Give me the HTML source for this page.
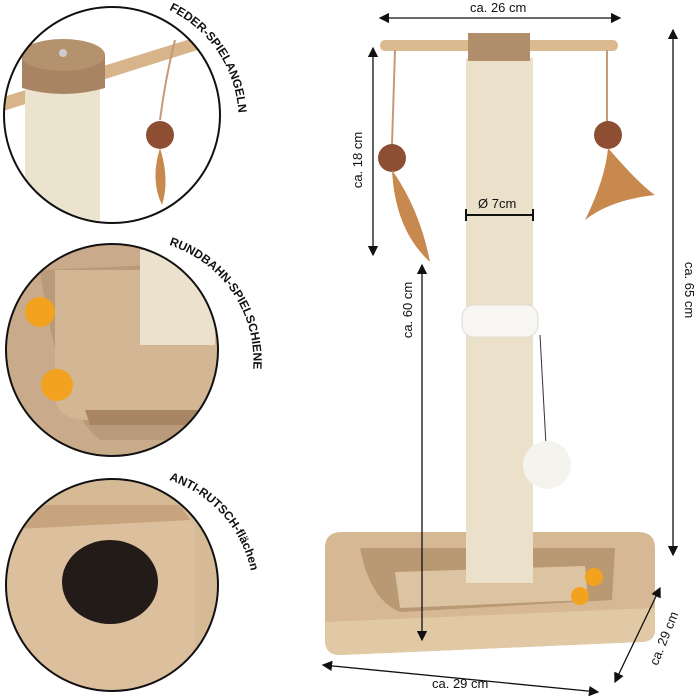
<!DOCTYPE html>
<html><head><style>body{margin:0;background:#fff}svg{display:block}</style></head><body>
<svg width="700" height="700" viewBox="0 0 700 700" xmlns="http://www.w3.org/2000/svg" font-family="Liberation Sans, sans-serif">
<defs>
<clipPath id="c1"><circle cx="112" cy="115" r="108"/></clipPath>
<clipPath id="c2"><circle cx="112" cy="350" r="106"/></clipPath>
<clipPath id="c3"><circle cx="112" cy="585" r="106"/></clipPath>
<path id="a1" d="M169 10 A122 122 0 0 1 232 160"/>
<path id="a2" d="M169 245 A122 122 0 0 1 220 445"/>
<path id="a3" d="M169 480 A122 122 0 0 1 220 680"/>
<marker id="ar" markerWidth="8" markerHeight="8" refX="7" refY="4" orient="auto-start-reverse"><path d="M0 0L8 4L0 8z" fill="#111"/></marker>
</defs>
<g clip-path="url(#c1)">
<rect x="0" y="0" width="230" height="230" fill="#fff"/>
<path d="M0 98 L200 36 L204 48 L0 112z" fill="#d8b48a"/>
<rect x="25" y="80" width="75" height="150" fill="#ece3cf"/>
<path d="M22 55 L105 55 L105 88 Q63 100 22 88z" fill="#a88462"/>
<ellipse cx="63" cy="55" rx="42" ry="16" fill="#b5926e"/>
<circle cx="63" cy="53" r="4" fill="#ccc"/>
<path d="M175 40 Q165 80 160 120" stroke="#c59a7a" stroke-width="2" fill="none"/>
<circle cx="160" cy="135" r="14" fill="#8e4e33"/>
<path d="M160 148 Q170 180 162 205 Q150 180 160 148z" fill="#c8894e"/>
</g>
<circle cx="112" cy="115" r="108" fill="none" stroke="#111" stroke-width="2"/>
<g clip-path="url(#c2)">
<rect x="0" y="240" width="230" height="230" fill="#c9aa8a"/>
<path d="M40 270 L220 262 L220 440 L100 440 Q60 410 40 270z" fill="#b99a7a"/>
<path d="M55 270 L225 270 L225 420 L90 420 Q55 420 55 395z" fill="#d3b795"/>
<path d="M85 410 L225 410 L225 425 L90 425z" fill="#a88563"/>
<rect x="140" y="250" width="75" height="95" fill="#ebe1cc"/>
<circle cx="40" cy="312" r="15" fill="#f3a21f"/>
<circle cx="57" cy="385" r="16" fill="#f3a21f"/>
</g>
<circle cx="112" cy="350" r="106" fill="none" stroke="#111" stroke-width="2"/>
<g clip-path="url(#c3)">
<rect x="0" y="475" width="230" height="230" fill="#d6b995"/>
<path d="M0 505 L180 505 L190 520 L0 530z" fill="#c8a47e"/>
<path d="M0 530 L195 520 L195 700 L0 700z" fill="#dcc09d"/>
<ellipse cx="110" cy="582" rx="48" ry="42" fill="#231b18"/>
</g>
<circle cx="112" cy="585" r="106" fill="none" stroke="#111" stroke-width="2"/>
<g font-weight="bold" font-size="12" fill="#111">
<text><textPath href="#a1">FEDER-SPIELANGELN</textPath></text>
<text><textPath href="#a2">RUNDBAHN-SPIELSCHIENE</textPath></text>
<text><textPath href="#a3">ANTI-RUTSCH-flächen</textPath></text>
</g>
<!-- base -->
<path d="M325 548 Q325 532 342 532 L638 532 Q655 532 655 548 L655 630 Q655 642 640 642 L340 655 Q325 655 325 640z" fill="#d6b994"/>
<path d="M325 622 L655 608 L655 630 Q655 642 640 642 L340 655 Q325 655 325 640z" fill="#e2c9a6"/>
<path d="M360 548 L615 548 L612 600 L400 612 Q370 600 360 548z" fill="#b99874"/>
<path d="M395 572 L585 566 L588 600 L400 608z" fill="#dcc3a2"/>
<circle cx="594" cy="577" r="9" fill="#f3a21f"/><circle cx="580" cy="596" r="9" fill="#f3a21f"/>
<rect x="380" y="40" width="238" height="11" rx="5" fill="#dcba8f"/>
<rect x="466" y="58" width="67" height="525" fill="#ebe1cb"/>
<rect x="468" y="33" width="62" height="28" fill="#b08e6c"/>
<rect x="462" y="305" width="76" height="32" rx="12" fill="#f8f6f2" stroke="#e0dbd0"/>
<line x1="540" y1="335" x2="546" y2="445" stroke="#333"/>
<circle cx="547" cy="465" r="24" fill="#f5f3ee"/>
<line x1="395" y1="50" x2="392" y2="145" stroke="#c59a7a" stroke-width="2"/>
<circle cx="392" cy="158" r="14" fill="#8e4e33"/>
<path d="M392 170 Q420 210 430 262 Q395 230 392 170z" fill="#c8894e"/>
<line x1="607" y1="50" x2="607" y2="122" stroke="#c59a7a" stroke-width="2"/>
<circle cx="608" cy="135" r="14" fill="#8e4e33"/>
<path d="M608 148 Q640 185 655 195 Q610 200 585 220 Q605 180 608 148z" fill="#c8894e"/>
<g stroke="#111" stroke-width="1.3" fill="none">
<line x1="380" y1="18" x2="620" y2="18" marker-start="url(#ar)" marker-end="url(#ar)"/>
<line x1="373" y1="48" x2="373" y2="255" marker-start="url(#ar)" marker-end="url(#ar)"/>
<line x1="422" y1="265" x2="422" y2="640" marker-start="url(#ar)" marker-end="url(#ar)"/>
<line x1="673" y1="30" x2="673" y2="555" marker-start="url(#ar)" marker-end="url(#ar)"/>
<line x1="323" y1="665" x2="598" y2="692" marker-start="url(#ar)" marker-end="url(#ar)"/>
<line x1="660" y1="588" x2="615" y2="682" marker-start="url(#ar)" marker-end="url(#ar)"/>
<line x1="466" y1="215" x2="533" y2="215" stroke-width="2"/>
<line x1="466" y1="209" x2="466" y2="221" stroke-width="2"/>
<line x1="533" y1="209" x2="533" y2="221" stroke-width="2"/>
</g>
<g font-size="13" fill="#111">
<text x="470" y="12">ca. 26 cm</text>
<text x="478" y="208">Ø 7cm</text>
<text transform="translate(362,160) rotate(-90)" text-anchor="middle">ca. 18 cm</text>
<text transform="translate(412,310) rotate(-90)" text-anchor="middle">ca. 60 cm</text>
<text transform="translate(685,290) rotate(90)" text-anchor="middle">ca. 65 cm</text>
<text x="432" y="688">ca. 29 cm</text>
<text transform="translate(668,640) rotate(-68)" text-anchor="middle">ca. 29 cm</text>
</g>
</svg>
</body></html>
